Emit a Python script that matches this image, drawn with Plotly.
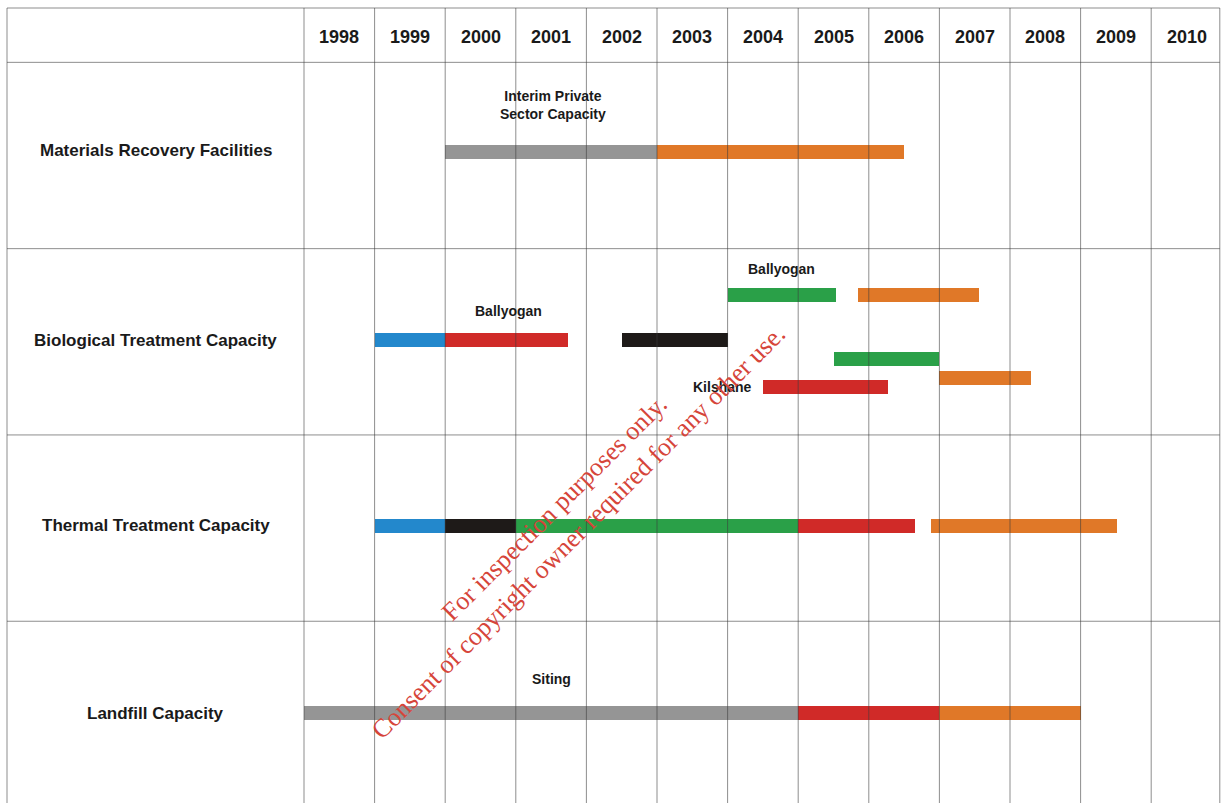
import plotly.graph_objects as go

# ---------------- data ----------------
years = list(range(1998, 2011))
year_labels = [str(y) for y in years]
rows = ["Materials Recovery Facilities", "Biological Treatment Capacity",
        "Thermal Treatment Capacity", "Landfill Capacity"]

# bars: row index, start year, end year, colour key
bar_rows   = [0, 0,
              1, 1, 1, 1, 1, 1, 1, 1,
              2, 2, 2, 2, 2,
              3, 3, 3]
bar_starts = [2000.0, 2003.0,
              1999.0, 2000.0, 2002.5, 2004.0, 2005.85, 2005.5, 2007.0, 2004.5,
              1999.0, 2000.0, 2001.0, 2005.0, 2006.88,
              1998.0, 2005.0, 2007.0]
bar_ends   = [2003.0, 2006.5,
              2000.0, 2001.74, 2004.0, 2005.54, 2007.56, 2007.0, 2008.3, 2006.27,
              2000.0, 2001.0, 2005.0, 2006.66, 2009.52,
              2005.0, 2007.0, 2009.0]
bar_kinds  = ["grey", "orange",
              "blue", "red", "black", "green", "orange", "green", "orange", "red",
              "blue", "black", "green", "red", "orange",
              "grey", "red", "orange"]
# vertical lane of each bar inside its row (fraction of row height)
bar_lanes  = [-0.019, -0.019,
              -0.008, -0.008, -0.008, -0.249, -0.249, 0.091, 0.193, 0.244,
              -0.013, -0.013, -0.013, -0.013, -0.013,
              -0.009, -0.009, -0.009]
row_label_lanes = [-0.025, -0.006, -0.012, -0.004]

notes      = ["Interim Private<br>Sector Capacity", "Ballyogan", "Ballyogan", "Kilshane", "Siting"]
note_x     = [2001.53, 2000.90, 2004.76, 2003.93, 2001.51]
note_y     = [-0.271, 0.834, 0.608, 1.242, 2.809]

watermark = "For inspection purposes only.<br>Consent of copyright owner required for any other use."

# ---------------- styles ----------------
colors = {"grey": "#959595", "orange": "#e07828", "blue": "#2388cc",
          "red": "#d02a28", "black": "#1e1a18", "green": "#2aa048"}
W, H = 1223, 803
px_per_year = 70.6
x0_px = 304
row_h = 186.3
row0_c = 155.5
xmin = 1998 - x0_px / px_per_year
xmax = 1998 + (W - x0_px) / px_per_year
ytop = -row0_c / row_h
ybot = (H - row0_c) / row_h
left_edge = xmin + 7 / px_per_year
right_edge = 2011 - 2 / px_per_year
header_top = (8 - row0_c) / row_h
header_bot = -0.5
bar_w = 14 / row_h
font_fam = "Liberation Sans Narrow, Arial Narrow, Liberation Sans, Arial, sans-serif"

fig = go.Figure()

for r, s, e, k, ln in zip(bar_rows, bar_starts, bar_ends, bar_kinds, bar_lanes):
    fig.add_trace(go.Bar(
        orientation="h", base=[s], x=[e - s], y=[r + ln], width=bar_w,
        marker=dict(color=colors[k], line=dict(width=0)),
        showlegend=False, hoverinfo="skip"))

grid = dict(color="rgba(60,60,60,0.58)", width=1)
shapes = []
# vertical grid
for xv in [left_edge] + [float(y) for y in years] + [2011.0]:
    xx = right_edge if xv == 2011.0 else xv
    shapes.append(dict(type="line", xref="x", yref="y", x0=xx, x1=xx,
                       y0=header_top, y1=ybot, line=grid, layer="above"))
# horizontal grid
for yv in [header_top, header_bot, 0.5, 1.5, 2.5]:
    shapes.append(dict(type="line", xref="x", yref="y", x0=left_edge, x1=right_edge,
                       y0=yv, y1=yv, line=grid, layer="above"))

annotations = []
for y, lab in zip(years, year_labels):
    annotations.append(dict(x=y + 0.5, y=(header_top + header_bot) / 2 + 0.008, xref="x", yref="y",
                            text="<b>" + lab + "</b>", showarrow=False,
                            font=dict(family=font_fam, size=18, color="#1a1a1a")))
for i, lab in enumerate(rows):
    annotations.append(dict(x=(left_edge + 1998) / 2, y=i + row_label_lanes[i], xref="x", yref="y",
                            text="<b>" + lab + "</b>", showarrow=False,
                            font=dict(family=font_fam, size=17, color="#1a1a1a")))
for t, xx, yy in zip(notes, note_x, note_y):
    annotations.append(dict(x=xx, y=yy, xref="x", yref="y", text="<b>" + t + "</b>",
                            showarrow=False,
                            font=dict(family=font_fam, size=14, color="#1a1a1a")))
annotations.append(dict(x=1998 + (566 - x0_px) / px_per_year, y=(520 - row0_c) / row_h,
                        xref="x", yref="y", text=watermark, showarrow=False,
                        textangle=-45,
                        font=dict(family="Liberation Serif, Times New Roman, serif",
                                  size=26, color="#d6453a")))

fig.update_layout(
    width=W, height=H, margin=dict(l=0, r=0, t=0, b=0),
    paper_bgcolor="white", plot_bgcolor="white",
    xaxis=dict(range=[xmin, xmax], visible=False, fixedrange=True),
    yaxis=dict(range=[ybot, ytop], visible=False, fixedrange=True),
    shapes=shapes, annotations=annotations, barmode="overlay", bargap=0,
)
fig.write_html("out.html", config={"displayModeBar": False})
